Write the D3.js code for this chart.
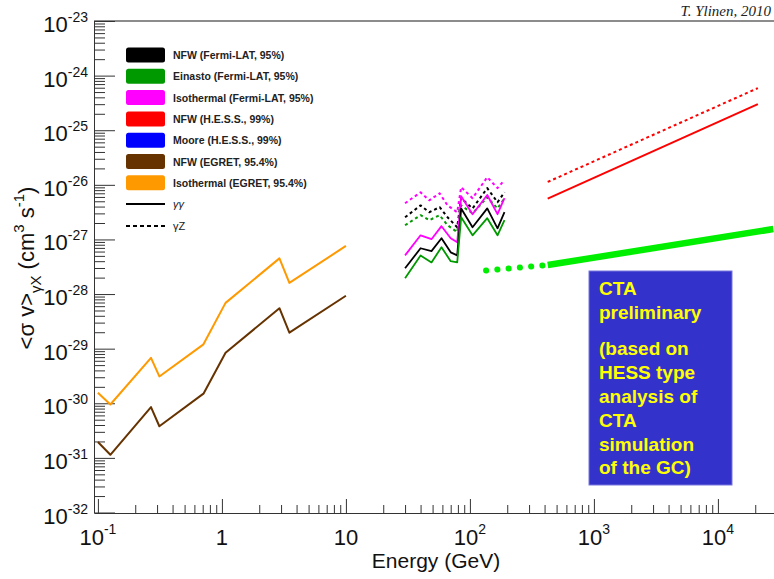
<!DOCTYPE html>
<html>
<head>
<meta charset="utf-8">
<script src="https://cdn.jsdelivr.net/npm/d3@7"></script>
<style>
  body { margin: 0; background: #fff; }
  svg { display: block; font-family: "Liberation Sans", Arial, sans-serif; }
</style>
</head>
<body>
<div id="chart"></div>
<script>
// EGRET limits
const egretE = [0.1, 0.126, 0.268, 0.313, 0.71, 1.07, 2.91, 3.5, 10];
const isoEgret = [1.56e-30, 9.5e-31, 6.8e-30, 3.1e-30, 1.2e-29, 6.9e-29, 4.5e-28, 1.6e-28, 7.6e-28];
const nfwEgret = [1.95e-31, 1.14e-31, 8.5e-31, 3.8e-31, 1.5e-30, 8.4e-30, 5.5e-29, 1.96e-29, 9.3e-29];

// Fermi-LAT, gamma gamma (solid)
const fermiE = [30, 40, 49, 59, 70, 79, 85, 105, 138, 167, 190];
const nfwGG = [2.96e-28, 6.9e-28, 6.1e-28, 1.05e-27, 5.8e-28, 5.1e-28, 3.7e-27, 1.67e-27, 3.7e-27, 1.6e-27, 3.15e-27];
const einGG = [1.95e-28, 5.1e-28, 3.8e-28, 7.2e-28, 4.0e-28, 3.8e-28, 2.55e-27, 1.19e-27, 2.45e-27, 1.19e-27, 2.25e-27];
const isoGG = [5.1e-28, 1.19e-27, 1.01e-27, 1.75e-27, 1.05e-27, 8.9e-28, 6.2e-27, 2.9e-27, 6.5e-27, 2.9e-27, 5.7e-27];

// Fermi-LAT, gamma Z (dashed)
const fermiZE = [30, 40, 47, 57, 66, 79, 85, 105, 138, 167, 190];
const nfwGZ = [2.55e-27, 4.2e-27, 3.15e-27, 3.9e-27, 2.55e-27, 1.67e-27, 5.7e-27, 3.7e-27, 8.7e-27, 4.8e-27, 7.3e-27];
const einGZ = [1.82e-27, 2.78e-27, 2.25e-27, 2.78e-27, 1.82e-27, 1.36e-27, 4.2e-27, 3.0e-27, 5.9e-27, 3.7e-27, 5.7e-27];
const isoGZ = [4.6e-27, 7.3e-27, 5.2e-27, 7.0e-27, 4.2e-27, 3.15e-27, 9.05e-27, 5.7e-27, 1.38e-26, 8.7e-27, 1.22e-26];

// H.E.S.S. NFW
const hessE = [424, 2.1e4];
const hessGG = [5.6e-27, 3.0e-25];
const hessGZ = [1.13e-26, 5.9e-25];

// CTA
const ctaDotE = [135, 424];
const ctaDot = [2.7e-28, 3.4e-28];
const ctaE = [424, 2.8e4];
const cta = [3.4e-28, 1.55e-27];

const legendLabels = ["NFW (Fermi-LAT, 95%)", "Einasto (Fermi-LAT, 95%)", "Isothermal (Fermi-LAT, 95%)",
  "NFW (H.E.S.S., 99%)", "Moore (H.E.S.S., 99%)", "NFW (EGRET, 95.4%)", "Isothermal (EGRET, 95.4%)"];
const legendColors = ["#000000", "#009900", "#ff00ff", "#ff0000", "#0000ff", "#663300", "#ff9900"];

const ctaText = ["CTA", "preliminary", "(based on", "HESS type", "analysis of", "CTA", "simulation", "of the GC)"];

const width = 774, height = 579;
const plotLeft = 94, plotTop = 21, plotBottom = 513;

const svg = d3.select("#chart").append("svg")
  .attr("width", width)
  .attr("height", height);

svg.append("rect").attr("width", width).attr("height", height).attr("fill", "#fff");

const x = d3.scaleLog().domain([0.093, 3e4]).range([plotLeft, plotLeft + 124 * Math.log10(3e4 / 0.093)]);
const y = d3.scaleLog().domain([1e-32, 1e-23]).range([512.5, plotTop]);

svg.append("clipPath").attr("id", "clip")
  .append("rect").attr("x", plotLeft).attr("y", plotTop).attr("width", width - plotLeft).attr("height", plotBottom - plotTop);

// frame top line
svg.append("line")
  .attr("x1", plotLeft).attr("x2", width).attr("y1", plotTop).attr("y2", plotTop)
  .attr("stroke", "#666").attr("stroke-width", 1.5);

// y axis
let yMajor = d3.range(-32, -22).map(e => Math.pow(10, e));
let yMinor = [];
d3.range(-32, -23).forEach(e => { for (let k = 2; k <= 9; k++) yMinor.push(k * Math.pow(10, e)); });

svg.append("g")
  .attr("transform", `translate(${plotLeft},0)`)
  .call(d3.axisLeft(y).tickValues(yMinor).tickSize(-11).tickFormat(() => ""))
  .call(g => g.select(".domain").remove());
svg.append("g")
  .attr("transform", `translate(${plotLeft},0)`)
  .call(d3.axisLeft(y).tickValues(yMajor).tickSize(-21).tickSizeOuter(0).tickFormat(() => ""))
  .call(g => g.select(".domain").attr("stroke", "#333"));

// x axis
let xMajor = [0.1, 1, 10, 100, 1000, 10000];
let xMinor = [];
d3.range(-1, 5).forEach(e => { for (let k = 2; k <= 9; k++) { let v = k * Math.pow(10, e); if (v < 3e4) xMinor.push(v); } });

svg.append("g")
  .attr("transform", `translate(0,${plotBottom})`)
  .call(d3.axisBottom(x).tickValues(xMinor).tickSize(-8).tickFormat(() => ""))
  .call(g => g.select(".domain").remove());
svg.append("g")
  .attr("transform", `translate(0,${plotBottom})`)
  .call(d3.axisBottom(x).tickValues(xMajor).tickSize(-14).tickSizeOuter(0).tickFormat(() => ""))
  .call(g => g.select(".domain").attr("stroke", "#333"));

svg.selectAll(".tick line").attr("stroke", "#333");

// y tick labels
svg.append("g").selectAll("text")
  .data(yMajor)
  .join("text")
  .attr("x", 88)
  .attr("y", d => y(d) + 11)
  .attr("text-anchor", "end")
  .attr("font-size", 22)
  .attr("fill", "#111")
  .each(function (d) {
    let t = d3.select(this);
    t.append("tspan").text("10");
    t.append("tspan").attr("font-size", 14).attr("dy", -10).text(Math.round(Math.log10(d)));
  });

// x tick labels
svg.append("g").selectAll("text")
  .data(xMajor)
  .join("text")
  .attr("x", d => x(d))
  .attr("y", 545)
  .attr("text-anchor", "middle")
  .attr("font-size", 22)
  .attr("fill", "#111")
  .each(function (d) {
    let t = d3.select(this);
    let e = Math.round(Math.log10(d));
    if (e === 0) t.text("1");
    else if (e === 1) t.text("10");
    else {
      t.append("tspan").text("10");
      t.append("tspan").attr("font-size", 14).attr("dy", -11).text(e);
    }
  });

// axis titles
svg.append("text")
  .attr("x", 436).attr("y", 568)
  .attr("text-anchor", "middle")
  .attr("font-size", 21)
  .attr("fill", "#111")
  .text("Energy (GeV)");

let yt = svg.append("text")
  .attr("transform", "translate(34,268) rotate(-90)")
  .attr("text-anchor", "middle")
  .attr("font-size", 22)
  .attr("fill", "#111");
yt.append("tspan").text("<σ v>");
yt.append("tspan").attr("font-size", 15).attr("dy", 7).text("γX");
yt.append("tspan").attr("dy", -7).text(" (cm");
yt.append("tspan").attr("font-size", 15).attr("dy", -10).text("3");
yt.append("tspan").attr("dy", 10).text(" s");
yt.append("tspan").attr("font-size", 15).attr("dy", -10).text("-1");
yt.append("tspan").attr("dy", 10).text(")");

svg.append("text")
  .attr("x", 771).attr("y", 16)
  .attr("text-anchor", "end")
  .attr("font-family", "Liberation Serif, Times New Roman, serif")
  .attr("font-style", "italic")
  .attr("font-size", 15)
  .attr("fill", "#222")
  .text("T. Ylinen, 2010");

// curves
const plot = svg.append("g").attr("clip-path", "url(#clip)");
const line = d3.line().x(d => x(d[0])).y(d => y(d[1]));

function drawCurve(es, vs, color, w, dash, cap) {
  plot.append("path")
    .datum(es.map((e, i) => [e, vs[i]]))
    .attr("d", line)
    .attr("fill", "none")
    .attr("stroke", color)
    .attr("stroke-width", w)
    .attr("stroke-linejoin", "round")
    .attr("stroke-linecap", cap || "butt")
    .attr("stroke-dasharray", dash || null);
}

drawCurve(egretE, isoEgret, "#ff9900", 2);
drawCurve(egretE, nfwEgret, "#663300", 2);

drawCurve(fermiZE, isoGZ, "#ff00ff", 2, "3,3");
drawCurve(fermiZE, nfwGZ, "#000000", 2, "3,3");
drawCurve(fermiZE, einGZ, "#009900", 2, "3,3");
drawCurve(fermiE, isoGG, "#ff00ff", 1.8);
drawCurve(fermiE, nfwGG, "#000000", 1.8);
drawCurve(fermiE, einGG, "#009900", 1.8);

drawCurve(hessE, hessGZ, "#ff0000", 2, "3,3");
drawCurve(hessE, hessGG, "#ff0000", 2);

drawCurve(ctaDotE, ctaDot, "#00ee00", 6, "0.1,11.2", "round");
drawCurve(ctaE, cta, "#00ee00", 6.5);

// legend
const legend = svg.append("g");
legendLabels.forEach((lab, i) => {
  let cy = 55 + i * 21.3;
  legend.append("rect")
    .attr("x", 126).attr("y", cy - 7.5)
    .attr("width", 39).attr("height", 15)
    .attr("rx", 2.5)
    .attr("fill", legendColors[i]);
  legend.append("text")
    .attr("x", 173).attr("y", cy + 4)
    .attr("font-size", 10.5)
    .attr("font-weight", "bold")
    .attr("fill", "#222")
    .text(lab);
});
[["γγ", null], ["γZ", "4,3"]].forEach((d, i) => {
  let cy = 204 + i * 22;
  legend.append("line")
    .attr("x1", 126).attr("x2", 165).attr("y1", cy).attr("y2", cy)
    .attr("stroke", "#000").attr("stroke-width", 2)
    .attr("stroke-dasharray", d[1]);
  legend.append("text")
    .attr("x", 173).attr("y", cy + 4)
    .attr("font-size", 11)
    .attr("font-style", i === 0 ? "italic" : "normal")
    .attr("fill", "#222")
    .text(d[0]);
});

// CTA box
svg.append("rect")
  .attr("x", 589).attr("y", 271)
  .attr("width", 143).attr("height", 214)
  .attr("fill", "#3333cc")
  .attr("stroke", "#7777dd").attr("stroke-width", 1);

const ctaBase = [295, 319, 355, 379, 403, 427, 451, 474];
svg.append("g").selectAll("text")
  .data(ctaText)
  .join("text")
  .attr("x", 599)
  .attr("y", (d, i) => ctaBase[i])
  .attr("font-size", 19)
  .attr("font-weight", "bold")
  .attr("fill", "#ffff00")
  .text(d => d);
</script>
</body>
</html>
